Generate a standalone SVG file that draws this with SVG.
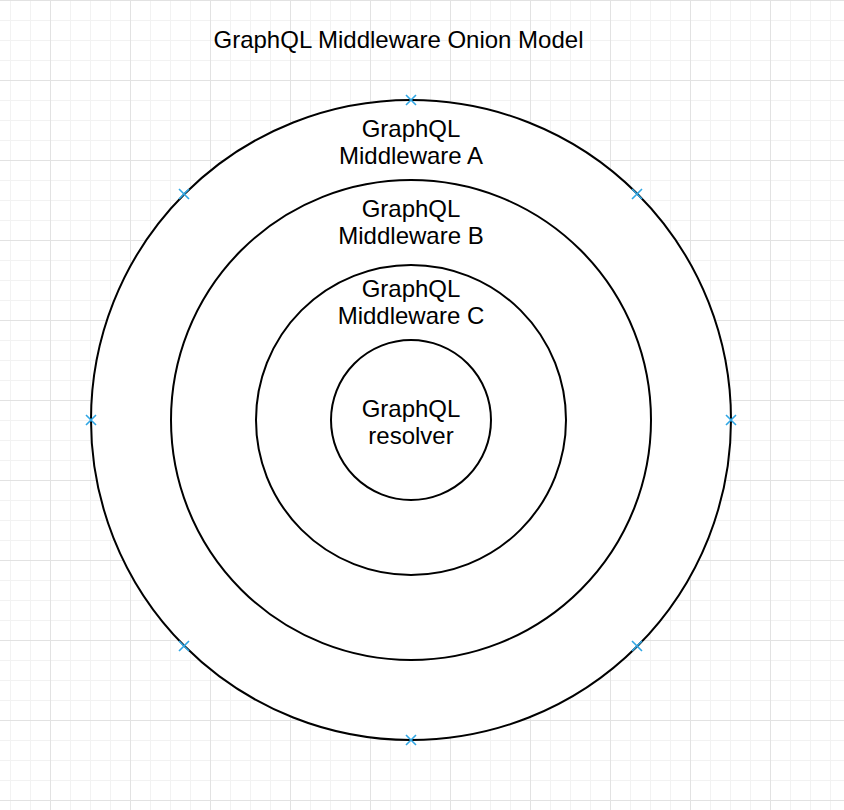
<svg xmlns="http://www.w3.org/2000/svg" width="844" height="810" viewBox="0 0 844 810">
  <style>
    .ring { fill: none; stroke: #000000; stroke-width: 2; }
    .core { fill: #ffffff; stroke: #000000; stroke-width: 2; }
    .lbl { font-family: "Liberation Sans", Arial, Helvetica, sans-serif; font-size: 24px; fill: #000000; text-anchor: middle; }
    .mark { stroke: #2fa6e4; stroke-width: 1.6; fill: none; }
  </style>
  <defs>
    <pattern id="minor" patternUnits="userSpaceOnUse" x="10" y="0" width="20" height="20">
      <path d="M 0.5 0 L 0.5 20 M 0 0.5 L 20 0.5" stroke="#f2f2f2" stroke-width="1" fill="none"/>
    </pattern>
    <pattern id="major" patternUnits="userSpaceOnUse" x="50" y="0" width="80" height="80">
      <path d="M 0.5 0 L 0.5 80 M 0 0.5 L 80 0.5" stroke="#e2e2e2" stroke-width="1" fill="none"/>
    </pattern>
    <path id="x" class="mark" d="M -5 -5 L 5 5 M -5 5 L 5 -5"/>
  </defs>
  <rect width="844" height="810" fill="#ffffff"/>
  <rect width="844" height="810" fill="url(#minor)"/>
  <rect width="844" height="810" fill="url(#major)"/>

  <text class="lbl" x="398.5" y="48">GraphQL Middleware Onion Model</text>

  <g id="middleware-a">
    <circle cx="411" cy="420" r="320" fill="#ffffff" stroke="#000" stroke-width="2"/>
    <text class="lbl" x="411" y="137">GraphQL</text>
    <text class="lbl" x="411" y="164">Middleware A</text>
  </g>
  <g id="middleware-b">
    <circle class="ring" cx="411" cy="420" r="240"/>
    <text class="lbl" x="411" y="217">GraphQL</text>
    <text class="lbl" x="411" y="244">Middleware B</text>
  </g>
  <g id="middleware-c">
    <circle class="ring" cx="411" cy="420" r="155"/>
    <text class="lbl" x="411" y="297">GraphQL</text>
    <text class="lbl" x="411" y="324">Middleware C</text>
  </g>
  <g id="resolver">
    <circle class="core" cx="411" cy="420" r="80"/>
    <text class="lbl" x="411" y="417">GraphQL</text>
    <text class="lbl" x="411" y="444">resolver</text>
  </g>

  <g id="connection-points">
    <use href="#x" x="411" y="100"/>
    <use href="#x" x="184" y="194"/>
    <use href="#x" x="637" y="194"/>
    <use href="#x" x="91" y="420"/>
    <use href="#x" x="731" y="420"/>
    <use href="#x" x="184" y="646"/>
    <use href="#x" x="637" y="646"/>
    <use href="#x" x="411" y="740"/>
  </g>
</svg>
